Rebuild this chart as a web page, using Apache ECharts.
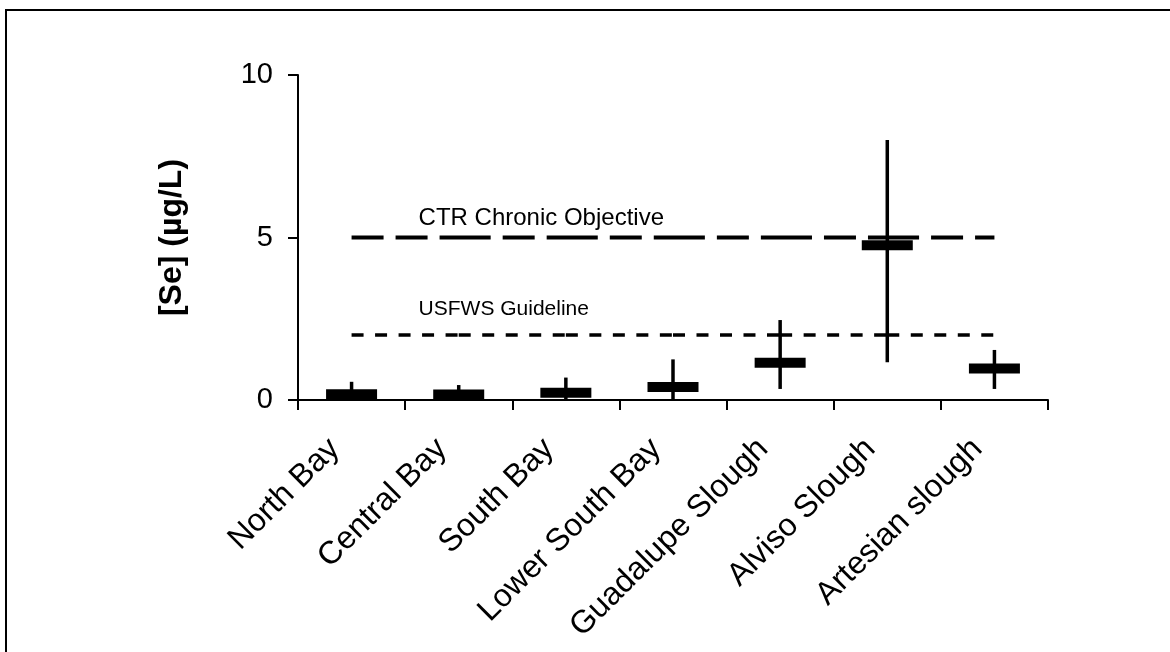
<!DOCTYPE html>
<html>
<head>
<meta charset="utf-8">
<script src="https://cdn.jsdelivr.net/npm/echarts@6/dist/echarts.min.js"></script>
<style>
  html, body { margin: 0; padding: 0; background: #fff; }
  #chart { width: 1170px; height: 652px; }
</style>
</head>
<body>
<div id="chart"></div>
<script>
// DATA
const categories = ["North Bay", "Central Bay", "South Bay", "Lower South Bay", "Guadalupe Slough", "Alviso Slough", "Artesian slough"];
const centerValues = [0.18, 0.17, 0.22, 0.4, 1.15, 4.76, 0.97];
const lowValues = [0, 0, 0, 0.03, 0.34, 1.16, 0.34];
const highValues = [0.56, 0.46, 0.69, 1.25, 2.46, 8.0, 1.54];
const ctrValues = [5, 5, 5, 5, 5, 5, 5];
const usfwsValues = [2, 2, 2, 2, 2, 2, 2];
const guideNames = ["CTR Chronic Objective", "USFWS Guideline"];

const FONT = "Liberation Sans, Arial, sans-serif";

var chart = echarts.init(document.getElementById("chart"));

var boxData = categories.map((c, i) => [i, centerValues[i], lowValues[i], highValues[i]]);

chart.setOption({
  animation: false,
  grid: { left: 298, right: 122, top: 75, bottom: 252 },
  xAxis: {
    type: "category",
    data: categories,
    axisLine: { lineStyle: { color: "#000", width: 2 } },
    axisTick: { show: true, length: 10, lineStyle: { color: "#000", width: 2 } },
    axisLabel: {
      rotate: 45, fontSize: 32, fontFamily: FONT, color: "#000",
      margin: 27, padding: [0, 24, 0, 0], interval: 0
    }
  },
  yAxis: {
    type: "value",
    min: 0,
    max: 10,
    interval: 5,
    name: "[Se] (µg/L)",
    nameLocation: "middle",
    nameGap: 110,
    nameTextStyle: { fontSize: 32, fontWeight: "bold", fontFamily: FONT, color: "#000" },
    splitLine: { show: false },
    axisLine: { show: true, onZero: false, lineStyle: { color: "#000", width: 2 } },
    axisTick: { show: true, length: 10, lineStyle: { color: "#000", width: 2 } },
    axisLabel: { fontSize: 29, fontFamily: FONT, color: "#000", margin: 25 }
  },
  series: [{
    type: "custom",
    z: 2,
    data: boxData,
    renderItem: function (params, api) {
      var i = api.value(0);
      var mid = api.coord([i, api.value(1)]);
      var lo = api.coord([i, api.value(2)]);
      var hi = api.coord([i, api.value(3)]);
      return {
        type: "group",
        children: [{
          type: "line",
          shape: { x1: mid[0], y1: lo[1], x2: mid[0], y2: hi[1] },
          style: { stroke: "#000", lineWidth: 3.5 }
        }, {
          type: "rect",
          shape: { x: mid[0] - 25.5, y: mid[1] - 5, width: 51, height: 10 },
          style: { fill: "#000" }
        }]
      };
    }
  }, {
    // dash pattern restarts at every category, like the original
    type: "line",
    name: guideNames[0],
    data: ctrValues,
    symbol: "none",
    silent: true,
    z: 3,
    lineStyle: { color: "#000", width: 4, type: [51.1, 12, 32, 12], dashOffset: 19.1 }
  }, {
    type: "line",
    name: guideNames[1],
    data: usfwsValues,
    symbol: "none",
    silent: true,
    z: 3,
    lineStyle: { color: "#000", width: 3.5, type: [12, 11.5, 12, 11.5, 12, 11.5, 12, 11.5, 12, 1.14] }
  }]
});

// captions above the guideline lines, and the page border
var captionSizes = [24, 21];
var guideValues = [ctrValues[0], usfwsValues[0]];
var texts = guideValues.map((v, k) => {
  var p = chart.convertToPixel({ xAxisIndex: 0, yAxisIndex: 0 }, [0, v]);
  return {
    type: "text",
    x: p[0] + 67,
    y: p[1] - (k == 0 ? 19 : 26),
    style: {
      text: guideNames[k],
      font: captionSizes[k] + "px " + FONT,
      fill: "#000",
      textAlign: "left",
      textVerticalAlign: "middle"
    }
  };
});

chart.setOption({
  graphic: texts.concat([{
    type: "rect",
    shape: { x: 6, y: 10, width: 1300, height: 800 },
    style: { fill: "none", stroke: "#000", lineWidth: 2 }
  }])
});
</script>
</body>
</html>
